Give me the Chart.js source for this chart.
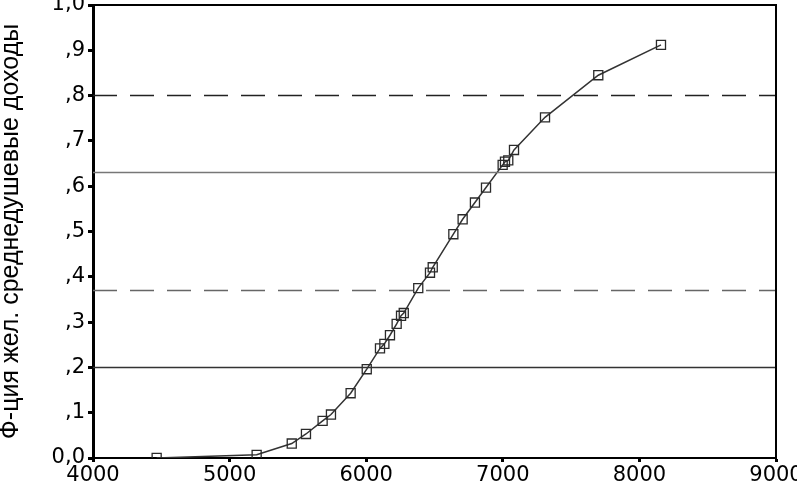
<!DOCTYPE html>
<html><head><meta charset="utf-8">
<script src="https://cdn.jsdelivr.net/npm/chart.js@4/dist/chart.umd.min.js"></script>
<style>html,body{margin:0;padding:0;background:#fff}#wrap{width:797px;height:481px}</style>
</head><body><div id="wrap"><canvas id="c" width="797" height="481"></canvas></div>
<script>
const incomeX = [4466, 5198, 5455, 5559, 5681, 5742, 5886, 6004, 6101, 6133, 6174, 6223, 6255, 6275, 6381, 6467, 6487, 6638, 6706, 6796, 6877, 6999, 7016, 7040, 7082, 7309, 7699, 8158];
const cdfY    = [0.000, 0.007, 0.032, 0.053, 0.082, 0.096, 0.143, 0.196, 0.242, 0.252, 0.271, 0.296, 0.314, 0.320, 0.375, 0.409, 0.421, 0.494, 0.527, 0.564, 0.597, 0.647, 0.654, 0.657, 0.680, 0.752, 0.845, 0.912];
const refLevels = [0.8, 0.63, 0.37, 0.2];
const refDashed = [true, false, true, false];
const refColors = ['#222222', '#777777', '#666666', '#333333'];
const xTicksRange = [4000, 9000];
const yTitle = 'Ф-ция жел. среднедушевые доходы';

const points = incomeX.map((x, i) => ({x: x, y: cdfY[i]}));
const refSets = refLevels.map((lv, i) => ({
  type: 'line',
  data: [{x: xTicksRange[0], y: lv}, {x: xTicksRange[1], y: lv}],
  borderColor: refColors[i],
  borderWidth: 1.5,
  borderDash: refDashed[i] ? [24, 13] : [],
  pointRadius: 0,
  fill: false
}));

const frame = {
  id: 'frame',
  afterDatasetsDraw(chart) {
    const a = chart.chartArea, ctx = chart.ctx;
    ctx.save();
    ctx.strokeStyle = '#000';
    ctx.lineWidth = 2;
    ctx.beginPath();
    ctx.moveTo(a.left, a.top); ctx.lineTo(a.right, a.top); ctx.lineTo(a.right, a.bottom);
    ctx.stroke();
    ctx.restore();
  }
};

function yFmt(v) {
  const r = Math.round(v * 10) / 10;
  if (r === 0) return '0,0';
  if (r === 1) return '1,0';
  return ',' + Math.round(r * 10);
}

new Chart(document.getElementById('c'), {
  type: 'scatter',
  data: {
    datasets: [
      ...refSets,
      {
        type: 'line',
        data: points,
        borderColor: '#333333',
        borderWidth: 1.5,
        pointStyle: 'rect',
        pointRadius: 6.4,
        pointBorderWidth: 1.3,
        pointBorderColor: '#2a2a2a',
        pointBackgroundColor: 'rgba(0,0,0,0)',
        fill: false,
        tension: 0
      }
    ]
  },
  options: {
    responsive: false,
    animation: false,
    devicePixelRatio: 1,
    layout: {autoPadding: false, padding: {left: 0, top: 5, right: 21, bottom: 0}},
    plugins: {legend: {display: false}, tooltip: {enabled: false}},
    scales: {
      x: {
        type: 'linear', min: 4000, max: 9000,
        ticks: {stepSize: 1000, color: '#000', font: {family: 'DejaVu Sans', size: 21}, padding: 1, maxRotation: 0, autoSkip: false, callback: v => String(v)},
        grid: {drawOnChartArea: false, drawTicks: true, tickLength: 4, tickWidth: 3, tickColor: '#000'},
        border: {display: true, color: '#000', width: 2},
        afterFit(s) { s.height = 23; s.paddingLeft = 0; s.paddingRight = 0; }
      },
      y: {
        type: 'linear', min: 0, max: 1,
        ticks: {stepSize: 0.1, color: '#000', font: {family: 'DejaVu Sans', size: 21}, padding: 3, callback: yFmt},
        grid: {drawOnChartArea: false, drawTicks: true, tickLength: 5, tickWidth: 3, tickColor: '#000'},
        border: {display: true, color: '#000', width: 3},
        title: {display: true, text: yTitle, color: '#000', font: {family: 'Liberation Sans', size: 25, lineHeight: 0.9}, padding: {top: 0, bottom: 4}},
        afterFit(s) { s.width = 93; s.paddingTop = 0; s.paddingBottom = 0; }
      }
    }
  },
  plugins: [frame]
});
</script></body></html>
